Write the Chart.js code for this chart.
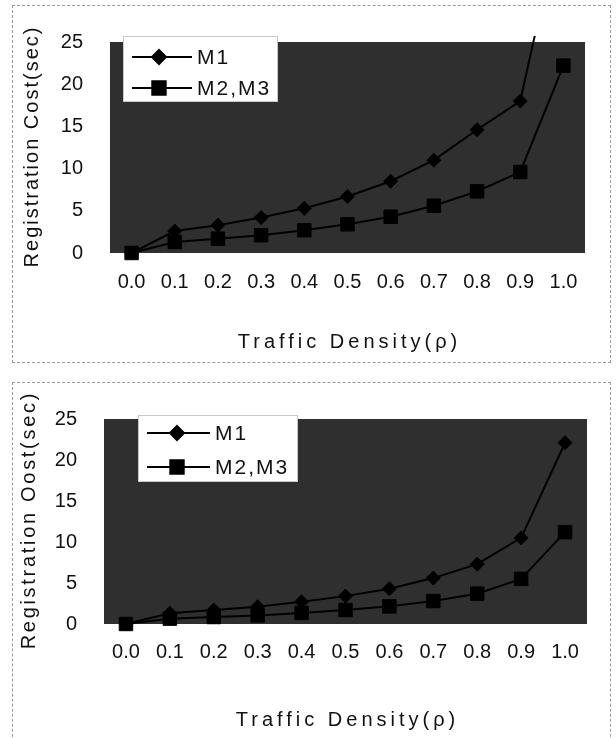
<!DOCTYPE html>
<html><head><meta charset="utf-8">
<script src="https://cdn.jsdelivr.net/npm/chart.js@4"></script>
<style>
html,body{margin:0;padding:0;background:#fff;width:616px;height:738px;overflow:hidden;position:relative}
.panel{position:absolute;border:1px dashed #9a9a9a;box-sizing:border-box}
.wrap{position:absolute;left:0;width:616px}
</style></head><body>
<div class="panel" style="left:12px;top:5px;width:599px;height:358px"></div>
<div class="panel" style="left:12px;top:382px;width:599px;height:380px"></div>
<div class="wrap" style="top:0;height:362px"><canvas id="c1"></canvas></div>
<div class="wrap" style="top:362px;height:376px"><canvas id="c2"></canvas></div>
<script>
// ---- data ----
const densityLabels = ['0.0','0.1','0.2','0.3','0.4','0.5','0.6','0.7','0.8','0.9','1.0'];
const seriesNames = ['M1', 'M2,M3'];
const yMin = 0, yMax = 25, yStep = 5;
// upper chart
const costTopM1  = [0, 2.6, 3.3, 4.2, 5.3, 6.7, 8.5, 11.0, 14.6, 18.0, 41.0];
const costTopM23 = [0, 1.3, 1.7, 2.1, 2.7, 3.4, 4.3, 5.6, 7.3, 9.6, 22.2];
// lower chart
const costBotM1  = [0, 1.3, 1.7, 2.1, 2.7, 3.4, 4.3, 5.6, 7.3, 10.5, 22.1];
const costBotM23 = [0, 0.65, 0.85, 1.05, 1.35, 1.7, 2.15, 2.8, 3.7, 5.5, 11.2];
const xTitle = 'Traffic Density(\u03C1)';
const yTitleTop = 'Registration Cost(sec)';
const yTitleBottom = 'Registration Oost(sec)';

const FONT = '"Liberation Sans", Arial, Helvetica, sans-serif';

const decor = {
  id: 'decor',
  beforeDraw(chart, args, o) {
    const {ctx, chartArea: a} = chart;
    ctx.save();
    ctx.fillStyle = o.plotBg;
    ctx.fillRect(a.left, a.top, a.right - a.left, a.bottom - a.top);
    ctx.restore();
  },
  afterDraw(chart, args, o) {
    const {ctx, chartArea: a} = chart;
    ctx.save();
    ctx.fillStyle = '#111';
    ctx.font = '20px ' + FONT;
    ctx.textAlign = 'center';
    ctx.textBaseline = 'middle';
    ctx.letterSpacing = o.xSpacing + 'px';
    ctx.fillText(o.xTitle, (a.left + a.right) / 2 + o.xSpacing / 2, o.xTitleY);
    ctx.restore();

    ctx.save();
    ctx.fillStyle = '#111';
    ctx.font = '20px ' + FONT;
    ctx.textAlign = 'center';
    ctx.textBaseline = 'middle';
    ctx.translate(o.yTitleX, (a.top + a.bottom) / 2);
    ctx.rotate(-Math.PI / 2);
    ctx.letterSpacing = o.ySpacing + 'px';
    ctx.fillText(o.yTitle, o.ySpacing / 2, 0);
    ctx.restore();

    const L = o.legend;
    ctx.save();
    ctx.fillStyle = '#fff';
    ctx.fillRect(L.x, L.y, L.w, L.h);
    ctx.strokeStyle = '#c8c8c8';
    ctx.lineWidth = 1;
    ctx.strokeRect(L.x + 0.5, L.y + 0.5, L.w - 1, L.h - 1);
    chart.data.datasets.forEach((ds, i) => {
      const y = L.y + L.rows[i];
      ctx.strokeStyle = ds.borderColor;
      ctx.lineWidth = ds.borderWidth;
      ctx.beginPath();
      ctx.moveTo(L.x + L.lineX0, y);
      ctx.lineTo(L.x + L.lineX1, y);
      ctx.stroke();
      ctx.fillStyle = '#000';
      ctx.strokeStyle = '#000';
      Chart.helpers.drawPoint(ctx, {pointStyle: ds.pointStyle, radius: ds.pointRadius, borderWidth: 1, rotation: 0}, L.x + L.markX, y);
      ctx.fillStyle = '#111';
      ctx.font = '21px ' + FONT;
      ctx.textAlign = 'left';
      ctx.textBaseline = 'middle';
      ctx.letterSpacing = '2px';
      ctx.fillText(ds.label, L.x + L.textX, y + 1);
      ctx.letterSpacing = '0px';
    });
    ctx.restore();
  }
};

function makeChart(id, m1, m23, cfg) {
  return new Chart(document.getElementById(id), {
    type: 'line',
    data: {
      labels: densityLabels,
      datasets: [
        {label: seriesNames[0], data: m1, borderColor: '#000', backgroundColor: '#000', borderWidth: 2,
         pointStyle: 'rectRot', pointRadius: 7, pointBorderWidth: 1, tension: 0,
         clip: {left: 20, top: 6, right: 20, bottom: 20}},
        {label: seriesNames[1], data: m23, borderColor: '#000', backgroundColor: '#000', borderWidth: 2,
         pointStyle: 'rect', pointRadius: 9.5, pointBorderWidth: 1, tension: 0,
         clip: {left: 20, top: 6, right: 20, bottom: 20}}
      ]
    },
    options: {
      responsive: true,
      maintainAspectRatio: false,
      devicePixelRatio: 1,
      animation: false,
      events: [],
      layout: {padding: {left: 0, right: cfg.padRight, top: cfg.padTop, bottom: 0}},
      plugins: {
        legend: {display: false},
        tooltip: {enabled: false},
        decor: cfg.decor
      },
      scales: {
        x: {
          type: 'category',
          offset: true,
          grid: {display: false, drawTicks: false},
          border: {display: false},
          ticks: {color: '#111', font: {family: FONT, size: 20}, padding: cfg.xPad, maxRotation: 0, autoSkip: false},
          afterFit: (s) => { s.height = cfg.xHeight; }
        },
        y: {
          min: yMin, max: yMax,
          grid: {display: false, drawTicks: false},
          border: {display: false},
          ticks: {stepSize: yStep, color: '#111', font: {family: FONT, size: 20}, padding: 27},
          afterFit: (s) => { s.width = cfg.yWidth; }
        }
      }
    },
    plugins: [decor]
  });
}

makeChart('c1', costTopM1, costTopM23, {
  padRight: 31, padTop: 42, xHeight: 109, yWidth: 110, xPad: 17,
  decor: {
    plotBg: '#2f2f2f', xTitle: xTitle, xTitleY: 342, xSpacing: 4,
    yTitle: yTitleTop, yTitleX: 32, ySpacing: 2,
    legend: {x: 123, y: 36, w: 155, h: 66, rows: [21, 52], lineX0: 9, lineX1: 69, markX: 36, textX: 74}
  }
});
makeChart('c2', costBotM1, costBotM23, {
  padRight: 29, padTop: 57, xHeight: 114, yWidth: 104, xPad: 16,
  decor: {
    plotBg: '#2f2f2f', xTitle: xTitle, xTitleY: 358, xSpacing: 4,
    yTitle: yTitleBottom, yTitleX: 29, ySpacing: 2.7,
    legend: {x: 138, y: 53, w: 160, h: 67, rows: [18, 52], lineX0: 9, lineX1: 72, markX: 39, textX: 77}
  }
});
</script>
</body></html>
